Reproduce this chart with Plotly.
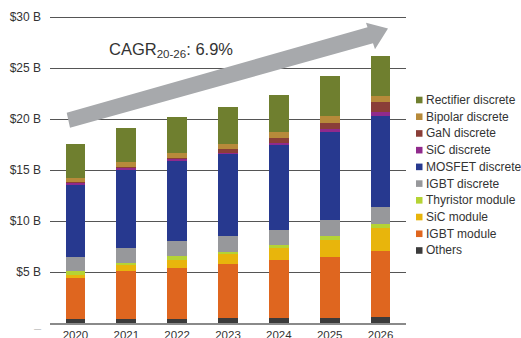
import plotly.graph_objects as go

years = ["2020", "2021", "2022", "2023", "2024", "2025", "2026"]

series_names = ["Others", "IGBT module", "SiC module", "Thyristor module", "IGBT discrete",
                "MOSFET discrete", "SiC discrete", "GaN discrete", "Bipolar discrete",
                "Rectifier discrete"]

others        = [0.35, 0.35, 0.38, 0.45, 0.45, 0.45, 0.62]
igbt_module   = [4.10, 4.70, 5.06, 5.38, 5.68, 6.07, 6.48]
sic_module    = [0.27, 0.59, 0.75, 0.98, 1.31, 1.66, 2.26]
thyristor     = [0.39, 0.29, 0.39, 0.20, 0.16, 0.39, 0.39]
igbt_discrete = [1.40, 1.44, 1.47, 1.54, 1.53, 1.54, 1.66]
mosfet        = [7.01, 7.63, 7.83, 8.06, 8.35, 8.64, 8.90]
sic_discrete  = [0.27, 0.29, 0.22, 0.10, 0.19, 0.23, 0.39]
gan_discrete  = [0.05, 0.05, 0.10, 0.39, 0.49, 0.65, 0.95]
bipolar       = [0.40, 0.44, 0.46, 0.46, 0.59, 0.65, 0.62]
rectifier     = [3.30, 3.30, 3.52, 3.66, 3.62, 3.92, 3.88]

series_values = [others, igbt_module, sic_module, thyristor, igbt_discrete,
                 mosfet, sic_discrete, gan_discrete, bipolar, rectifier]

colors = ["#3B3B3B", "#DF661F", "#E8B50C", "#B5D334", "#97989B",
          "#27398F", "#902A8C", "#8A3E38", "#B78A3A", "#6F7F2F"]

y_tick_vals = [0, 5, 10, 15, 20, 25, 30]
y_tick_text = ["<span style='color:#c4c4c4'>_</span>", "$5 B", "$10 B", "$15 B",
               "$20 B", "$25 B", "$30 B"]

cagr_label = "CAGR<sub>20-26</sub>: 6.9%"

# layout geometry (pixels): y range 0..30.1 at 10.2 px per unit
L, T, W, H = 50, 16, 356, 307
FIG_W, FIG_H = 521, 338
Y_MAX = 30.1


def px(x):
    return (x - L) / W


def py(y):
    return (T + H - y) / H


fig = go.Figure()
for name, vals, col in zip(series_names, series_values, colors):
    fig.add_trace(go.Bar(x=years, y=vals, name=name, marker=dict(color=col, line=dict(width=0)),
                         width=0.39, showlegend=False))

# Custom legend (top to bottom: reverse stacking order)
shapes = []
annotations = []
for i, (name, col) in enumerate(zip(series_names[::-1], colors[::-1])):
    yc = 100 + 16.72 * i
    shapes.append(dict(type="rect", xref="paper", yref="paper",
                       x0=px(416), x1=px(422.5), y0=py(yc + 3.3), y1=py(yc - 3.3),
                       fillcolor=col, line=dict(width=0), layer="above"))
    annotations.append(dict(text=name, xref="paper", yref="paper", x=px(423.5), y=py(yc),
                            xanchor="left", yanchor="middle", showarrow=False,
                            font=dict(size=12, color="#333333", family="Liberation Sans")))

# Growth arrow
pts = [(66.7, 112.7), (367.5, 27.2), (366, 22.7), (388, 28.5), (375, 49.3), (373, 43.3), (70, 127.7)]
path = "M " + " L ".join(f"{px(x):.5f},{py(y):.5f}" for x, y in pts) + " Z"
shapes.append(dict(type="path", xref="paper", yref="paper", path=path,
                   fillcolor="#A7A9AC", line=dict(width=0), layer="above"))

annotations.append(dict(text=cagr_label, xref="paper", yref="paper", x=px(107), y=py(50),
                        xanchor="left", yanchor="middle", showarrow=False,
                        font=dict(size=16.5, color="#333333", family="Liberation Sans")))

fig.update_layout(
    width=FIG_W, height=FIG_H,
    margin=dict(l=L, r=FIG_W - L - W, t=T, b=FIG_H - T - H, pad=0),
    barmode="stack",
    plot_bgcolor="white", paper_bgcolor="white",
    template="none",
    font=dict(family="Liberation Sans", size=12, color="#333333"),
    shapes=shapes, annotations=annotations,
    showlegend=False,
)
fig.update_xaxes(type="category", range=[-0.5, 6.5], showgrid=False, zeroline=False,
                 showline=True, linecolor="#8a8a8a", linewidth=1.5, ticks="",
                 tickfont=dict(size=11.5, color="#333333"), automargin=False,
                 ticklabelstandoff=0)
fig.update_yaxes(range=[0, Y_MAX], tickvals=y_tick_vals, ticktext=y_tick_text,
                 showgrid=True, gridcolor="#555555", gridwidth=1, zeroline=False,
                 showline=False, ticks="", tickfont=dict(size=12, color="#333333"),
                 automargin=False, ticklabelstandoff=8)

fig.write_html("out.html")
